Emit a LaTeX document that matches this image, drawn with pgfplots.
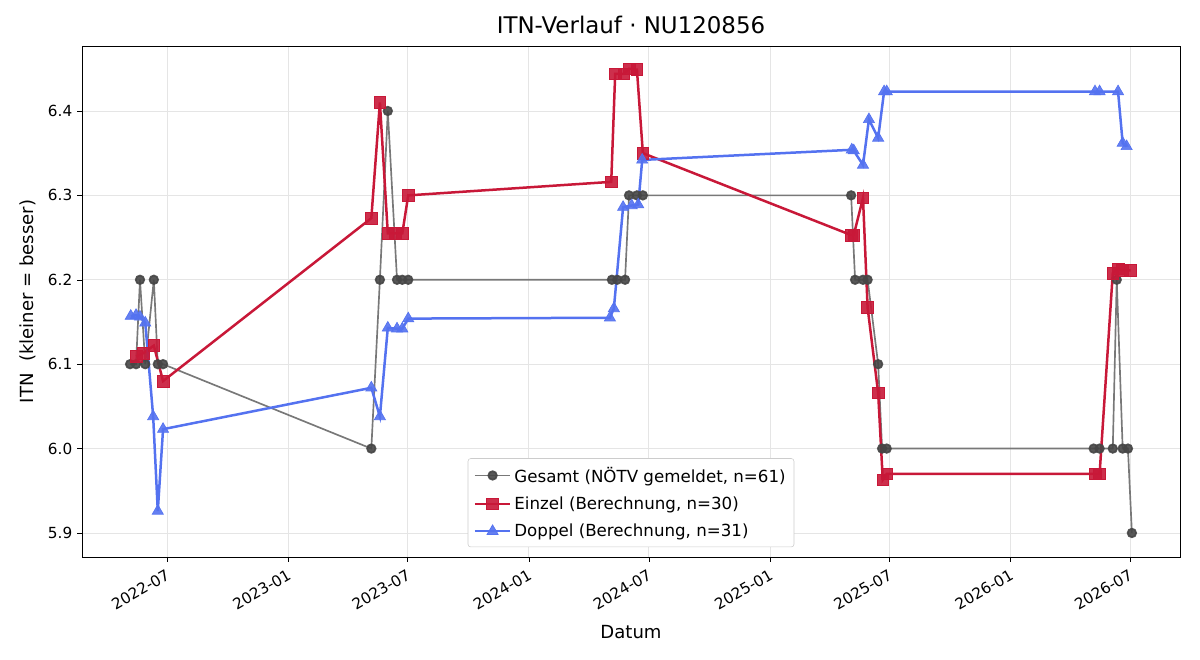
\documentclass[border=0pt]{standalone}
\usepackage{pgfplots}
\pgfplotsset{compat=1.18}
\usepackage{fontspec}
\setmainfont{DejaVu Sans}
\definecolor{cgray}{RGB}{120,120,120}
\definecolor{cgraym}{RGB}{70,70,70}
\definecolor{cred}{RGB}{200,24,56}
\definecolor{cblue}{RGB}{84,114,240}
\begin{document}
\begin{tikzpicture}[x=1pt,y=1pt]
\begin{axis}[
  scale only axis,
  width=790.6pt, height=367.9pt,
  xmin=-129, xmax=1537,
  ymin=5.8716, ymax=6.477,
  xtick={0,184,365,549,731,915,1096,1280,1461},
  xticklabels={2022-07,2023-01,2023-07,2024-01,2024-07,2025-01,2025-07,2026-01,2026-07},
  xticklabel style={rotate=30, anchor=north east, font=\fontsize{11}{13}\selectfont},
  ytick={5.9,6.0,6.1,6.2,6.3,6.4},
  yticklabel style={font=\fontsize{11}{13}\selectfont, /pgf/number format/.cd, fixed, fixed zerofill, precision=1},
  /pgf/number format/assume math mode=true,
  grid=major,
  major grid style={gray!20, line width=0.6pt},
  tick style={black},
  tick align=outside,
  xtick pos=bottom, ytick pos=left,
  major tick length=3.5pt,
  title={ITN-Verlauf · NU120856},
  title style={font=\fontsize{16.5}{19}\selectfont, yshift=-1pt},
  xlabel={Datum},
  ylabel={ITN\ \ (kleiner = besser)},
  xlabel style={font=\fontsize{13}{15}\selectfont, yshift=-3pt},
  ylabel style={font=\fontsize{13}{15}\selectfont, yshift=2pt},
  legend style={at={(0.5,0)}, anchor=south, yshift=7pt, draw=gray!40, rounded corners=2pt, font=\fontsize{12}{14}\selectfont, row sep=5pt, inner sep=4pt},
  legend cell align=left,
  legend image code/.code={\draw[mark repeat=2,mark phase=2,#1] plot coordinates {(0cm,0cm) (0.45cm,0cm) (0.9cm,0cm)};},
]
\addplot[color=cgray, line width=1.2pt, mark=*, mark size=3.1pt, mark options={fill=cgraym, draw=cgraym, fill opacity=0.9, draw opacity=0.9}] coordinates {
(-56,6.1) (-47,6.1) (-41,6.2) (-33,6.1) (-20,6.2) (-14,6.1) (-6,6.1)
(310,6.0) (323,6.2) (335,6.4) (349,6.2) (357,6.2) (366,6.2)
(675,6.2) (683,6.2) (695,6.2) (701,6.3) (713,6.3) (722,6.3)
(1038,6.3) (1044,6.2) (1056,6.2) (1063,6.2) (1079,6.1) (1085,6.0) (1092,6.0)
(1406,6.0) (1415,6.0) (1435,6.0) (1441,6.2) (1450,6.0) (1458,6.0) (1464,5.9)
};
\addlegendentry{Gesamt (NÖTV gemeldet, n=61)}
\addplot[color=cred, line width=1.8pt, mark=square*, mark size=4.2pt, mark options={fill=cred, draw=cred, line width=0.5pt, fill opacity=0.9}] coordinates {
(-47,6.109) (-36,6.113) (-20,6.122) (-6,6.080)
(310,6.273) (323,6.410) (335,6.255) (346,6.255) (357,6.255) (366,6.300)
(674,6.316) (680,6.444) (693,6.444) (701,6.450) (713,6.449) (722,6.350)
(1038,6.253) (1042,6.253) (1056,6.297) (1063,6.167) (1079,6.066) (1086,5.963) (1092,5.970)
(1409,5.970) (1415,5.970) (1435,6.208) (1443,6.213) (1450,6.211) (1462,6.211)
};
\addlegendentry{Einzel (Berechnung, n=30)}
\addplot[color=cblue, line width=1.8pt, mark=triangle*, mark size=4.6pt, mark options={fill=cblue, draw=cblue, line width=0.5pt, fill opacity=0.9}] coordinates {
(-55,6.157) (-47,6.158) (-41,6.156) (-33,6.149) (-21,6.038) (-14,5.926) (-6,6.023)
(310,6.072) (323,6.038) (335,6.143) (349,6.142) (357,6.142) (366,6.154)
(672,6.155) (678,6.166) (692,6.286) (705,6.288) (715,6.289) (721,6.342)
(1039,6.354) (1042,6.353) (1056,6.336) (1065,6.390) (1079,6.368) (1088,6.423) (1092,6.423)
(1408,6.423) (1415,6.423) (1443,6.423) (1450,6.362) (1456,6.358)
};
\addlegendentry{Doppel (Berechnung, n=31)}
\end{axis}
\path (current axis.south west) ++(-59.04pt,-74.16pt) coordinate (bl);
\path (current axis.north east) ++(14.4pt,33.12pt) coordinate (tr);
\useasboundingbox (bl) rectangle (tr);
\end{tikzpicture}
\end{document}
